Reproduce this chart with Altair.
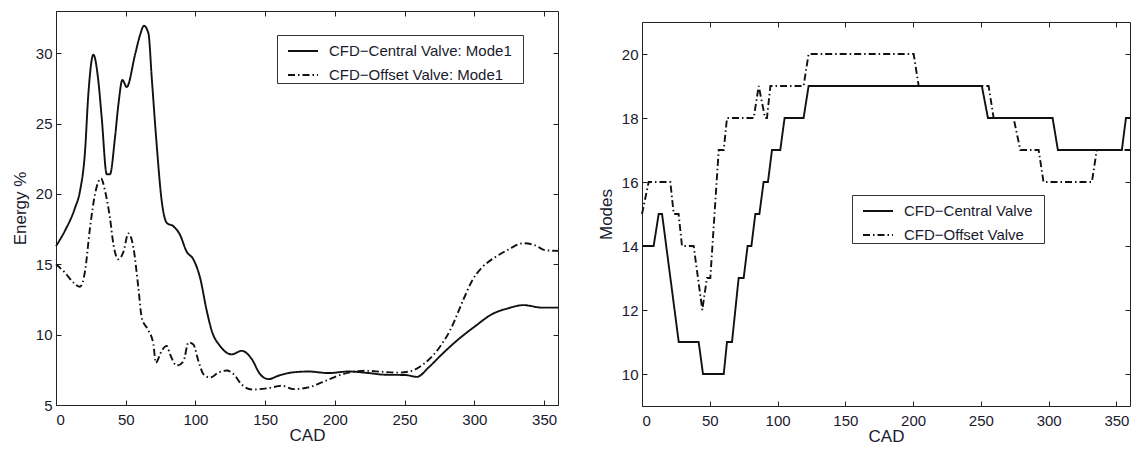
import altair as alt
import pandas as pd

FONT = "Liberation Sans"
INK = "#111111"

# ---- Left panel: energy captured by POD mode 1 (%) versus crank angle ----
energy_cad_central = [0, 6.5, 13.6, 17.2, 20.8, 23.2, 26.8, 30.4, 32.8, 36.4, 38.7, 42.3,
                      44.8, 47.6, 50.7, 56.7, 60.3, 63.1, 66.3, 68.7, 72.2, 75.8, 79.4, 84.2,
                      88.9, 93.7, 98.5, 103.3, 108.1, 111.6, 117.6, 126, 133.2, 140.4, 146.3,
                      152.4, 159.5, 169.1, 181, 195.4, 209.8, 224.2, 236.1, 250.4, 258.8,
                      267.2, 276.7, 288.7, 300.6, 312.6, 324.5, 335.3, 348.4, 360]
energy_central = [16.3, 17.4, 19.0, 20.2, 23.0, 27.1, 29.9, 28.0, 25.4, 21.4, 21.4, 24.0,
                  26.4, 28.1, 27.6, 29.9, 31.3, 31.95, 31.4, 28.2, 23.5, 19.5, 17.95, 17.7,
                  17.1, 15.9, 15.35, 14.05, 11.7, 10.3, 9.2, 8.6, 8.85, 8.26, 7.2,
                  6.84, 7.08, 7.31, 7.38, 7.27, 7.38, 7.27, 7.15, 7.13, 7.0,
                  7.67, 8.6, 9.68, 10.6, 11.45, 11.88, 12.1, 11.92, 11.92]

energy_cad_offset = [0, 6.5, 12.5, 17.2, 20.8, 24.4, 28, 32.3, 35.2, 38.7, 41.2, 44.8,
                     48.4, 51.9, 55.5, 59.1, 61.5, 66.3, 69.9, 71.5, 75.8, 79.4, 81.8, 86.6,
                     91.4, 95, 98.5, 102.2, 105.7, 110.5, 116.5, 122.5, 127.3, 133.2, 140.4,
                     152.4, 162, 170.3, 181, 190.6, 200.2, 209.8, 221.7, 233.7, 245.6, 255.2,
                     263.5, 274.3, 282.6, 292.2, 298.2, 305.3, 314.9, 324.5, 335.3, 343.6,
                     350.8, 360]
energy_offset = [15.0, 14.4, 13.7, 13.4, 14.5, 17.6, 20.0, 21.1, 20.2, 18.3, 16.4, 15.35,
                 15.9, 17.2, 16.2, 13.3, 11.2, 10.3, 9.3, 8.0, 8.85, 9.2, 8.6, 7.8,
                 8.1, 9.45, 9.3, 8.1, 7.2, 6.95, 7.3, 7.45, 7.2, 6.45, 6.1,
                 6.2, 6.37, 6.13, 6.25, 6.6, 7.0, 7.3, 7.43, 7.36, 7.3, 7.43,
                 7.9, 9.0, 10.3, 12.5, 13.8, 14.75, 15.5, 16.05, 16.5, 16.35,
                 16.0, 15.95]

# ---- Right panel: number of modes versus crank angle ----
modes_cad_central = [0, 8.6, 12.3, 14.8, 27.1, 41.8, 45, 60.3, 62.7, 66.4, 71.3, 75, 77.9,
                     80.7, 83.6, 86.6, 89.7, 92.9, 95.9, 102, 105.2, 119.2, 122.9, 250.7,
                     255.2, 302.9, 306.8, 354, 357, 360]
modes_central = [14, 14, 15, 15, 11, 11, 10, 10, 11, 11, 13, 13, 14,
                 14, 15, 15, 16, 16, 17, 17, 18, 18, 19, 19,
                 18, 18, 17, 17, 18, 18]

modes_cad_offset = [0, 4.9, 20.9, 23.4, 27, 29.5, 38.1, 44.5, 47.9, 50.4, 56.6, 60.3, 62.7,
                    82.4, 86.1, 90.8, 92.2, 94.7, 119.2, 122.9, 200.4, 204.1, 255.7, 259.4,
                    274.1, 279.1, 292.6, 296.2, 331.9, 335.5, 360]
modes_offset = [15, 16, 16, 15, 15, 14, 14, 12, 13, 13, 17, 17, 18,
                18, 19, 18, 18, 19, 19, 20, 20, 19, 19, 18,
                18, 17, 17, 16, 16, 17, 17]

x_ticks = [0, 50, 100, 150, 200, 250, 300, 350]
energy_ticks = [5, 10, 15, 20, 25, 30]
modes_ticks = [10, 12, 14, 16, 18, 20]

energy_names = ["CFD\u2212Central Valve: Mode1", "CFD\u2212Offset Valve: Mode1"]
modes_names = ["CFD\u2212Central Valve", "CFD\u2212Offset Valve"]

# invisible glyph appended to legend labels to leave a margin inside the legend frame
PAD_GLYPH = "\u2800"


def long_frame(names, xs_list, ys_list):
    parts = []
    for name, xs, ys in zip(names, xs_list, ys_list):
        parts.append(pd.DataFrame({"series": name, "cad": xs, "val": ys}))
    return pd.concat(parts, ignore_index=True)


def panel(df, names, y_domain, y_ticks, y_title, width, height, legend_xy, interp):
    x_scale = alt.Scale(domain=[0, 360], nice=False, zero=False)
    y_scale = alt.Scale(domain=y_domain, nice=False, zero=False)
    dash = alt.Scale(domain=names, range=[[1, 0], [7, 3, 1.5, 3]])

    lines = alt.Chart(df).mark_line(color=INK, strokeWidth=1.9, interpolate=interp).encode(
        x=alt.X("cad:Q", scale=x_scale,
                axis=alt.Axis(orient="bottom", values=x_ticks, ticks=False, tickSize=0,
                              domain=False, labelPadding=7, title="CAD", titlePadding=0)),
        y=alt.Y("val:Q", scale=y_scale,
                axis=alt.Axis(orient="left", values=y_ticks, ticks=False, tickSize=0,
                              domain=False, labelPadding=4, title=y_title, titlePadding=6)),
        strokeDash=alt.StrokeDash(
            "series:N", scale=dash, sort=names,
            legend=alt.Legend(title=None, orient="none", legendX=legend_xy[0],
                              legendY=legend_xy[1], direction="vertical",
                              symbolType="stroke", symbolSize=900, symbolStrokeWidth=1.9,
                              symbolStrokeColor=INK, symbolOffset=10,
                              labelFont=FONT, labelFontSize=15, labelColor="#1a1a2e",
                              labelOffset=10,
                              labelExpr="datum.label + '" + PAD_GLYPH + "'",
                              strokeColor="#333333", fillColor="white", padding=0,
                              rowPadding=-11)),
        detail="series:N",
    )

    # inward ticks along the bottom and left edges
    ticks_in_a = alt.Chart(df).mark_line(strokeOpacity=0).encode(
        x=alt.X("cad:Q", scale=x_scale,
                axis=alt.Axis(orient="top", offset=-height, values=x_ticks, labels=False,
                              domain=False, title=None, tickSize=5, tickColor="#222")),
        y=alt.Y("val:Q", scale=y_scale,
                axis=alt.Axis(orient="right", offset=-width, values=y_ticks, labels=False,
                              domain=False, title=None, tickSize=5, tickColor="#222")),
    )
    # inward ticks along the top and right edges
    ticks_in_b = alt.Chart(df).mark_line(strokeOpacity=0).encode(
        x=alt.X("cad:Q", scale=x_scale,
                axis=alt.Axis(orient="bottom", offset=-height, values=x_ticks, labels=False,
                              domain=False, title=None, tickSize=5, tickColor="#222")),
        y=alt.Y("val:Q", scale=y_scale,
                axis=alt.Axis(orient="left", offset=-width, values=y_ticks, labels=False,
                              domain=False, title=None, tickSize=5, tickColor="#222")),
    )

    return (alt.layer(lines, ticks_in_a, ticks_in_b)
            .resolve_axis(x="independent", y="independent")
            .properties(width=width, height=height))


energy_df = long_frame(energy_names, [energy_cad_central, energy_cad_offset],
                       [energy_central, energy_offset])
modes_df = long_frame(modes_names, [modes_cad_central, modes_cad_offset],
                      [modes_central, modes_offset])

left = panel(energy_df, energy_names, [5, 33], energy_ticks, "Energy %", 502, 394,
             (221, 24), "monotone")
right = panel(modes_df, modes_names, [9, 21], modes_ticks, "Modes", 488, 384,
              (210, 184), "linear")

# empty strip that lowers the right-hand frame a little
headroom = (alt.Chart(pd.DataFrame({"v": [0]}))
            .mark_point(opacity=0, size=0)
            .encode(x=alt.value(0), y=alt.value(0))
            .properties(width=488, height=9,
                        view=alt.ViewBackground(stroke="transparent")))

right_col = alt.vconcat(headroom, right, spacing=0)

chart = (alt.hconcat(left, right_col, spacing=33)
         .resolve_scale(strokeDash="independent")
         .configure(padding={"left": 10, "top": 10, "right": 0, "bottom": 0})
         .configure_view(stroke="#222222", strokeWidth=1)
         .configure_axis(labelFont=FONT, labelFontSize=15, labelColor="#1a1a2e",
                         titleFont=FONT, titleFontSize=17, titleFontWeight="normal",
                         titleColor="#1a1a2e", grid=False)
         .configure_legend(labelLimit=400))

chart.save("out.html", embed_options={"renderer": "svg", "actions": False})
